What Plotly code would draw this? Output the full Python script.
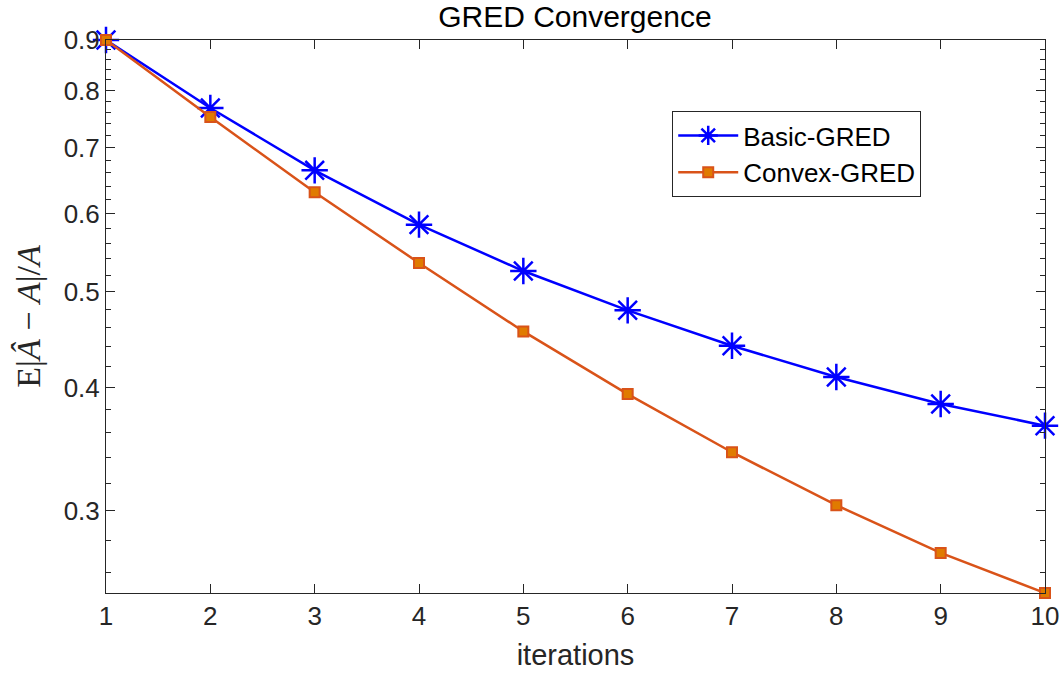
import numpy as np
import plotly.graph_objects as go

iterations = list(range(1, 11))
basic_gred = [0.900, 0.768, 0.664, 0.585, 0.525, 0.479, 0.441, 0.410, 0.385, 0.366]
convex_gred = [0.900, 0.752, 0.631, 0.535, 0.456, 0.394, 0.344, 0.304, 0.272, 0.2477]
y_major = [0.3, 0.4, 0.5, 0.6, 0.7, 0.8, 0.9]
y_major_text = ["0.3", "0.4", "0.5", "0.6", "0.7", "0.8", "0.9"]
y_minor = [0.26, 0.28, 0.32, 0.34, 0.36, 0.38, 0.42, 0.44, 0.46, 0.48,
           0.52, 0.54, 0.56, 0.58, 0.62, 0.64, 0.66, 0.68, 0.72, 0.74,
           0.76, 0.78, 0.82, 0.84, 0.86, 0.88]

AX = "#262626"
FONT = "Liberation Sans, Arial, Helvetica, sans-serif"

fig = go.Figure()
# invisible carrier trace for the minor-tick axis
fig.add_trace(go.Scatter(
    x=iterations, y=convex_gred, yaxis="y2", mode="lines", opacity=0,
    line=dict(width=0), showlegend=False, hoverinfo="skip",
))
fig.add_trace(go.Scatter(
    x=iterations, y=basic_gred, name="Basic-GRED", mode="lines+markers",
    line=dict(color="#0000FF", width=2.5),
    marker=dict(symbol="asterisk-open", size=22, color="#0000FF",
                line=dict(color="#0000FF", width=2.5)),
    cliponaxis=False,
))
fig.add_trace(go.Scatter(
    x=iterations, y=convex_gred, name="Convex-GRED", mode="lines+markers",
    line=dict(color="#D95319", width=2.5),
    marker=dict(symbol="square", size=10, color="#E07B00",
                line=dict(color="#D95319", width=2)),
    cliponaxis=False,
))

ymin = min(basic_gred + convex_gred)
ymax = max(basic_gred + convex_gred)
yrange = [np.log10(ymin), np.log10(ymax)]

fig.update_layout(
    width=1062, height=676,
    margin=dict(l=106, r=17, t=40, b=83, autoexpand=False),
    paper_bgcolor="white", plot_bgcolor="white",
    font=dict(family=FONT, size=26, color=AX),
    title=dict(text="GRED Convergence", x=0.5413, xanchor="center",
               y=1 - 16 / 676, yanchor="middle", automargin=False,
               font=dict(family=FONT, size=30, color="black")),
    legend=dict(x=0.603, y=0.8716, xanchor="left", yanchor="top",
                bgcolor="white", bordercolor=AX, borderwidth=1,
                font=dict(family=FONT, size=26, color="black"),
                tracegroupgap=0, itemwidth=60),
    showlegend=True,
    yaxis2=dict(
        type="log", range=yrange, overlaying="y", side="left", anchor="x",
        tickmode="array", tickvals=y_minor, showticklabels=False, automargin=False,
        showgrid=False, zeroline=False, showline=False,
        mirror="ticks", ticks="inside", ticklen=5, tickcolor=AX, tickwidth=1,
    ),
)
fig.update_xaxes(
    range=[1, 10], tickmode="array", tickvals=iterations, ticktext=[str(i) for i in iterations],
    automargin=False,
    showgrid=False, zeroline=False, showline=True, linecolor=AX, linewidth=1,
    mirror="ticks", ticks="inside", ticklen=9, tickcolor=AX, tickwidth=1,
    tickfont=dict(family=FONT, size=26, color=AX),
    title=dict(text="iterations", font=dict(family=FONT, size=29, color=AX), standoff=14),
)
fig.update_layout(yaxis=dict(
    type="log", range=yrange, tickmode="array",
    tickvals=y_major, ticktext=y_major_text,
    automargin=False,
    showgrid=False, zeroline=False, showline=True, linecolor=AX, linewidth=1,
    mirror="ticks", ticks="inside", ticklen=9, tickcolor=AX, tickwidth=1,
    tickfont=dict(family=FONT, size=26, color=AX),
    title=dict(text="E|<i>Â</i> − <i>A</i>|/<i>A</i>",
               font=dict(family="Liberation Serif, Times New Roman, serif", size=34, color=AX),
               standoff=12),
))

fig.write_html("out.html", config={"displayModeBar": False},
               post_script="document.body.style.margin='0';document.body.style.overflow='hidden';")
